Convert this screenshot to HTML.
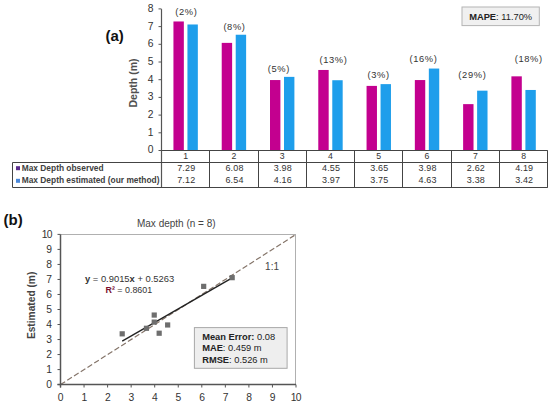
<!DOCTYPE html>
<html><head><meta charset="utf-8"><style>
html,body{margin:0;padding:0;background:#fff;}
body{width:550px;height:404px;overflow:hidden;}
svg{display:block;font-family:"Liberation Sans", sans-serif;}
</style></head><body>
<svg width="550" height="404" viewBox="0 0 550 404">
<rect width="550" height="404" fill="#fff"/>
<text x="105.50" y="41.30" font-size="15" text-anchor="start" font-weight="bold" fill="#111" >(a)</text>
<rect x="173.44" y="21.47" width="10.40" height="129.03" fill="#C3008F" />
<rect x="187.44" y="24.48" width="10.40" height="126.02" fill="#1E9EEB" />
<rect x="221.72" y="42.88" width="10.40" height="107.62" fill="#C3008F" />
<rect x="235.72" y="34.74" width="10.40" height="115.76" fill="#1E9EEB" />
<rect x="270.00" y="80.05" width="10.40" height="70.45" fill="#C3008F" />
<rect x="284.00" y="76.87" width="10.40" height="73.63" fill="#1E9EEB" />
<rect x="318.28" y="69.97" width="10.40" height="80.53" fill="#C3008F" />
<rect x="332.28" y="80.23" width="10.40" height="70.27" fill="#1E9EEB" />
<rect x="366.56" y="85.90" width="10.40" height="64.60" fill="#C3008F" />
<rect x="380.56" y="84.12" width="10.40" height="66.38" fill="#1E9EEB" />
<rect x="414.84" y="80.05" width="10.40" height="70.45" fill="#C3008F" />
<rect x="428.84" y="68.55" width="10.40" height="81.95" fill="#1E9EEB" />
<rect x="463.12" y="104.13" width="10.40" height="46.37" fill="#C3008F" />
<rect x="477.12" y="90.67" width="10.40" height="59.83" fill="#1E9EEB" />
<rect x="511.40" y="76.34" width="10.40" height="74.16" fill="#C3008F" />
<rect x="525.40" y="89.97" width="10.40" height="60.53" fill="#1E9EEB" />
<line x1="161.50" y1="9.10" x2="161.50" y2="187.50" stroke="#555" stroke-width="1.2" />
<line x1="158.50" y1="150.50" x2="161.50" y2="150.50" stroke="#555" stroke-width="1" />
<text x="153.40" y="153.40" font-size="10.3" text-anchor="end" font-weight="normal" fill="#333333" >0</text>
<line x1="158.50" y1="132.80" x2="161.50" y2="132.80" stroke="#555" stroke-width="1" />
<text x="153.40" y="135.70" font-size="10.3" text-anchor="end" font-weight="normal" fill="#333333" >1</text>
<line x1="158.50" y1="115.10" x2="161.50" y2="115.10" stroke="#555" stroke-width="1" />
<text x="153.40" y="118.00" font-size="10.3" text-anchor="end" font-weight="normal" fill="#333333" >2</text>
<line x1="158.50" y1="97.40" x2="161.50" y2="97.40" stroke="#555" stroke-width="1" />
<text x="153.40" y="100.30" font-size="10.3" text-anchor="end" font-weight="normal" fill="#333333" >3</text>
<line x1="158.50" y1="79.70" x2="161.50" y2="79.70" stroke="#555" stroke-width="1" />
<text x="153.40" y="82.60" font-size="10.3" text-anchor="end" font-weight="normal" fill="#333333" >4</text>
<line x1="158.50" y1="62.00" x2="161.50" y2="62.00" stroke="#555" stroke-width="1" />
<text x="153.40" y="64.90" font-size="10.3" text-anchor="end" font-weight="normal" fill="#333333" >5</text>
<line x1="158.50" y1="44.30" x2="161.50" y2="44.30" stroke="#555" stroke-width="1" />
<text x="153.40" y="47.20" font-size="10.3" text-anchor="end" font-weight="normal" fill="#333333" >6</text>
<line x1="158.50" y1="26.60" x2="161.50" y2="26.60" stroke="#555" stroke-width="1" />
<text x="153.40" y="29.50" font-size="10.3" text-anchor="end" font-weight="normal" fill="#333333" >7</text>
<line x1="158.50" y1="8.90" x2="161.50" y2="8.90" stroke="#555" stroke-width="1" />
<text x="153.40" y="11.80" font-size="10.3" text-anchor="end" font-weight="normal" fill="#333333" >8</text>
<text transform="translate(136.5,83) rotate(-90)" font-size="10.5" font-weight="bold" text-anchor="middle" fill="#505050">Depth (m)</text>
<text x="186.30" y="15.20" font-size="9.3" text-anchor="middle" font-weight="normal" fill="#333" letter-spacing="0.65">(2%)</text>
<text x="234.50" y="29.80" font-size="9.3" text-anchor="middle" font-weight="normal" fill="#333" letter-spacing="0.65">(8%)</text>
<text x="278.80" y="72.00" font-size="9.3" text-anchor="middle" font-weight="normal" fill="#333" letter-spacing="0.65">(5%)</text>
<text x="333.50" y="62.90" font-size="9.3" text-anchor="middle" font-weight="normal" fill="#333" letter-spacing="0.65">(13%)</text>
<text x="378.60" y="77.90" font-size="9.3" text-anchor="middle" font-weight="normal" fill="#333" letter-spacing="0.65">(3%)</text>
<text x="423.50" y="62.00" font-size="9.3" text-anchor="middle" font-weight="normal" fill="#333" letter-spacing="0.65">(16%)</text>
<text x="472.40" y="77.80" font-size="9.3" text-anchor="middle" font-weight="normal" fill="#333" letter-spacing="0.65">(29%)</text>
<text x="528.70" y="62.20" font-size="9.3" text-anchor="middle" font-weight="normal" fill="#333" letter-spacing="0.65">(18%)</text>
<rect x="462.00" y="7.00" width="77.30" height="18.60" fill="#F0F0F0" stroke="#B4B4B4" stroke-width="1"/>
<text x="469.2" y="19.9" font-size="9.3" fill="#222"><tspan font-weight="bold">MAPE</tspan>: 11.70%</text>
<line x1="161.50" y1="150.50" x2="547.74" y2="150.50" stroke="#444" stroke-width="1" />
<line x1="12.50" y1="162.50" x2="547.74" y2="162.50" stroke="#444" stroke-width="1" />
<line x1="12.50" y1="187.50" x2="547.74" y2="187.50" stroke="#444" stroke-width="1" />
<line x1="12.50" y1="162.50" x2="12.50" y2="187.50" stroke="#444" stroke-width="1" />
<line x1="209.50" y1="150.50" x2="209.50" y2="187.50" stroke="#444" stroke-width="1" />
<line x1="258.50" y1="150.50" x2="258.50" y2="187.50" stroke="#444" stroke-width="1" />
<line x1="306.50" y1="150.50" x2="306.50" y2="187.50" stroke="#444" stroke-width="1" />
<line x1="354.50" y1="150.50" x2="354.50" y2="187.50" stroke="#444" stroke-width="1" />
<line x1="402.50" y1="150.50" x2="402.50" y2="187.50" stroke="#444" stroke-width="1" />
<line x1="451.50" y1="150.50" x2="451.50" y2="187.50" stroke="#444" stroke-width="1" />
<line x1="499.50" y1="150.50" x2="499.50" y2="187.50" stroke="#444" stroke-width="1" />
<line x1="547.50" y1="150.50" x2="547.50" y2="187.50" stroke="#444" stroke-width="1" />
<text x="185.64" y="158.70" font-size="8.7" text-anchor="middle" font-weight="normal" fill="#333333" >1</text>
<text x="186.24" y="171.00" font-size="9" text-anchor="middle" font-weight="normal" fill="#333333" letter-spacing="0.15">7.29</text>
<text x="186.24" y="183.20" font-size="9" text-anchor="middle" font-weight="normal" fill="#333333" letter-spacing="0.15">7.12</text>
<text x="233.92" y="158.70" font-size="8.7" text-anchor="middle" font-weight="normal" fill="#333333" >2</text>
<text x="234.52" y="171.00" font-size="9" text-anchor="middle" font-weight="normal" fill="#333333" letter-spacing="0.15">6.08</text>
<text x="234.52" y="183.20" font-size="9" text-anchor="middle" font-weight="normal" fill="#333333" letter-spacing="0.15">6.54</text>
<text x="282.20" y="158.70" font-size="8.7" text-anchor="middle" font-weight="normal" fill="#333333" >3</text>
<text x="282.80" y="171.00" font-size="9" text-anchor="middle" font-weight="normal" fill="#333333" letter-spacing="0.15">3.98</text>
<text x="282.80" y="183.20" font-size="9" text-anchor="middle" font-weight="normal" fill="#333333" letter-spacing="0.15">4.16</text>
<text x="330.48" y="158.70" font-size="8.7" text-anchor="middle" font-weight="normal" fill="#333333" >4</text>
<text x="331.08" y="171.00" font-size="9" text-anchor="middle" font-weight="normal" fill="#333333" letter-spacing="0.15">4.55</text>
<text x="331.08" y="183.20" font-size="9" text-anchor="middle" font-weight="normal" fill="#333333" letter-spacing="0.15">3.97</text>
<text x="378.76" y="158.70" font-size="8.7" text-anchor="middle" font-weight="normal" fill="#333333" >5</text>
<text x="379.36" y="171.00" font-size="9" text-anchor="middle" font-weight="normal" fill="#333333" letter-spacing="0.15">3.65</text>
<text x="379.36" y="183.20" font-size="9" text-anchor="middle" font-weight="normal" fill="#333333" letter-spacing="0.15">3.75</text>
<text x="427.04" y="158.70" font-size="8.7" text-anchor="middle" font-weight="normal" fill="#333333" >6</text>
<text x="427.64" y="171.00" font-size="9" text-anchor="middle" font-weight="normal" fill="#333333" letter-spacing="0.15">3.98</text>
<text x="427.64" y="183.20" font-size="9" text-anchor="middle" font-weight="normal" fill="#333333" letter-spacing="0.15">4.63</text>
<text x="475.32" y="158.70" font-size="8.7" text-anchor="middle" font-weight="normal" fill="#333333" >7</text>
<text x="475.92" y="171.00" font-size="9" text-anchor="middle" font-weight="normal" fill="#333333" letter-spacing="0.15">2.62</text>
<text x="475.92" y="183.20" font-size="9" text-anchor="middle" font-weight="normal" fill="#333333" letter-spacing="0.15">3.38</text>
<text x="523.60" y="158.70" font-size="8.7" text-anchor="middle" font-weight="normal" fill="#333333" >8</text>
<text x="524.20" y="171.00" font-size="9" text-anchor="middle" font-weight="normal" fill="#333333" letter-spacing="0.15">4.19</text>
<text x="524.20" y="183.20" font-size="9" text-anchor="middle" font-weight="normal" fill="#333333" letter-spacing="0.15">3.42</text>
<rect x="16.00" y="166.20" width="4.00" height="4.00" fill="#5B2D8E" />
<rect x="16.00" y="178.80" width="4.00" height="4.00" fill="#4A88DA" />
<text x="21.70" y="171.20" font-size="8.4" text-anchor="start" font-weight="bold" fill="#404040" >Max Depth observed</text>
<text x="21.70" y="182.70" font-size="8.4" text-anchor="start" font-weight="bold" fill="#404040" >Max Depth estimated (our method)</text>
<text x="3.50" y="225.20" font-size="15" text-anchor="start" font-weight="bold" fill="#111" >(b)</text>
<text x="176.30" y="227.10" font-size="10" text-anchor="middle" font-weight="normal" fill="#444" >Max depth (n = 8)</text>
<line x1="60.50" y1="234.50" x2="296.00" y2="234.50" stroke="#B0B0B0" stroke-width="1" />
<line x1="295.50" y1="234.50" x2="295.50" y2="384.60" stroke="#B0B0B0" stroke-width="1" />
<line x1="60.50" y1="384.60" x2="296.00" y2="234.40" stroke="#85756A" stroke-width="1.2" stroke-dasharray="5.5 2.5"/>
<line x1="122.20" y1="341.22" x2="232.18" y2="277.98" stroke="#222" stroke-width="1.4" />
<rect x="229.58" y="275.06" width="5.20" height="5.20" fill="#6E6E6E" />
<rect x="201.08" y="283.77" width="5.20" height="5.20" fill="#6E6E6E" />
<rect x="151.63" y="319.52" width="5.20" height="5.20" fill="#6E6E6E" />
<rect x="165.05" y="322.37" width="5.20" height="5.20" fill="#6E6E6E" />
<rect x="143.86" y="325.68" width="5.20" height="5.20" fill="#6E6E6E" />
<rect x="151.63" y="312.46" width="5.20" height="5.20" fill="#6E6E6E" />
<rect x="119.60" y="331.23" width="5.20" height="5.20" fill="#6E6E6E" />
<rect x="156.57" y="330.63" width="5.20" height="5.20" fill="#6E6E6E" />
<line x1="60.50" y1="234.40" x2="60.50" y2="387.50" stroke="#555" stroke-width="1.5" />
<line x1="57.50" y1="384.60" x2="296.00" y2="384.60" stroke="#555" stroke-width="1.5" />
<line x1="57.50" y1="384.60" x2="60.50" y2="384.60" stroke="#555" stroke-width="1" />
<text x="51.90" y="387.90" font-size="10.3" text-anchor="end" font-weight="normal" fill="#333333" >0</text>
<line x1="60.50" y1="384.60" x2="60.50" y2="387.50" stroke="#555" stroke-width="1" />
<text x="60.70" y="400.50" font-size="10.3" text-anchor="middle" font-weight="normal" fill="#333333" >0</text>
<line x1="57.50" y1="369.58" x2="60.50" y2="369.58" stroke="#555" stroke-width="1" />
<text x="51.90" y="372.88" font-size="10.3" text-anchor="end" font-weight="normal" fill="#333333" >1</text>
<line x1="84.05" y1="384.60" x2="84.05" y2="387.50" stroke="#555" stroke-width="1" />
<text x="84.25" y="400.50" font-size="10.3" text-anchor="middle" font-weight="normal" fill="#333333" >1</text>
<line x1="57.50" y1="354.56" x2="60.50" y2="354.56" stroke="#555" stroke-width="1" />
<text x="51.90" y="357.86" font-size="10.3" text-anchor="end" font-weight="normal" fill="#333333" >2</text>
<line x1="107.60" y1="384.60" x2="107.60" y2="387.50" stroke="#555" stroke-width="1" />
<text x="107.80" y="400.50" font-size="10.3" text-anchor="middle" font-weight="normal" fill="#333333" >2</text>
<line x1="57.50" y1="339.54" x2="60.50" y2="339.54" stroke="#555" stroke-width="1" />
<text x="51.90" y="342.84" font-size="10.3" text-anchor="end" font-weight="normal" fill="#333333" >3</text>
<line x1="131.15" y1="384.60" x2="131.15" y2="387.50" stroke="#555" stroke-width="1" />
<text x="131.35" y="400.50" font-size="10.3" text-anchor="middle" font-weight="normal" fill="#333333" >3</text>
<line x1="57.50" y1="324.52" x2="60.50" y2="324.52" stroke="#555" stroke-width="1" />
<text x="51.90" y="327.82" font-size="10.3" text-anchor="end" font-weight="normal" fill="#333333" >4</text>
<line x1="154.70" y1="384.60" x2="154.70" y2="387.50" stroke="#555" stroke-width="1" />
<text x="154.90" y="400.50" font-size="10.3" text-anchor="middle" font-weight="normal" fill="#333333" >4</text>
<line x1="57.50" y1="309.50" x2="60.50" y2="309.50" stroke="#555" stroke-width="1" />
<text x="51.90" y="312.80" font-size="10.3" text-anchor="end" font-weight="normal" fill="#333333" >5</text>
<line x1="178.25" y1="384.60" x2="178.25" y2="387.50" stroke="#555" stroke-width="1" />
<text x="178.45" y="400.50" font-size="10.3" text-anchor="middle" font-weight="normal" fill="#333333" >5</text>
<line x1="57.50" y1="294.48" x2="60.50" y2="294.48" stroke="#555" stroke-width="1" />
<text x="51.90" y="297.78" font-size="10.3" text-anchor="end" font-weight="normal" fill="#333333" >6</text>
<line x1="201.80" y1="384.60" x2="201.80" y2="387.50" stroke="#555" stroke-width="1" />
<text x="202.00" y="400.50" font-size="10.3" text-anchor="middle" font-weight="normal" fill="#333333" >6</text>
<line x1="57.50" y1="279.46" x2="60.50" y2="279.46" stroke="#555" stroke-width="1" />
<text x="51.90" y="282.76" font-size="10.3" text-anchor="end" font-weight="normal" fill="#333333" >7</text>
<line x1="225.35" y1="384.60" x2="225.35" y2="387.50" stroke="#555" stroke-width="1" />
<text x="225.55" y="400.50" font-size="10.3" text-anchor="middle" font-weight="normal" fill="#333333" >7</text>
<line x1="57.50" y1="264.44" x2="60.50" y2="264.44" stroke="#555" stroke-width="1" />
<text x="51.90" y="267.74" font-size="10.3" text-anchor="end" font-weight="normal" fill="#333333" >8</text>
<line x1="248.90" y1="384.60" x2="248.90" y2="387.50" stroke="#555" stroke-width="1" />
<text x="249.10" y="400.50" font-size="10.3" text-anchor="middle" font-weight="normal" fill="#333333" >8</text>
<line x1="57.50" y1="249.42" x2="60.50" y2="249.42" stroke="#555" stroke-width="1" />
<text x="51.90" y="252.72" font-size="10.3" text-anchor="end" font-weight="normal" fill="#333333" >9</text>
<line x1="272.45" y1="384.60" x2="272.45" y2="387.50" stroke="#555" stroke-width="1" />
<text x="272.65" y="400.50" font-size="10.3" text-anchor="middle" font-weight="normal" fill="#333333" >9</text>
<line x1="57.50" y1="234.40" x2="60.50" y2="234.40" stroke="#555" stroke-width="1" />
<text x="51.60" y="237.70" font-size="10.3" text-anchor="end" font-weight="normal" fill="#333333" letter-spacing="-0.8">10</text>
<line x1="296.00" y1="384.60" x2="296.00" y2="387.50" stroke="#555" stroke-width="1" />
<text x="295.80" y="400.50" font-size="10.3" text-anchor="middle" font-weight="normal" fill="#333333" letter-spacing="-0.8">10</text>
<text transform="translate(34.6,305.4) rotate(-90)" font-size="10.2" font-weight="bold" text-anchor="middle" fill="#444">Estimated (m)</text>
<text x="265.10" y="270.00" font-size="10" text-anchor="start" font-weight="normal" fill="#444" >1:1</text>
<text x="85.00" y="282.00" font-size="9.4" text-anchor="start" font-weight="normal" fill="#333" ><tspan font-weight="bold">y</tspan> = 0.9015<tspan font-weight="bold">x</tspan> + 0.5263</text>
<text x="105.50" y="293.00" font-size="8.9" text-anchor="start" font-weight="normal" fill="#333" ><tspan font-weight="bold" fill="#7A1030">R²</tspan> = 0.8601</text>
<rect x="194.40" y="327.60" width="92.70" height="40.70" fill="#EEEEEE" stroke="#A8A8A8" stroke-width="1"/>
<text x="202.20" y="340.10" font-size="9.3" text-anchor="start" font-weight="normal" fill="#222" ><tspan font-weight="bold">Mean Error:</tspan> 0.08</text>
<text x="202.20" y="351.30" font-size="9.3" text-anchor="start" font-weight="normal" fill="#222" ><tspan font-weight="bold">MAE</tspan>: 0.459 m</text>
<text x="202.20" y="362.50" font-size="9.3" text-anchor="start" font-weight="normal" fill="#222" ><tspan font-weight="bold">RMSE</tspan>: 0.526 m</text>
</svg>
</body></html>
